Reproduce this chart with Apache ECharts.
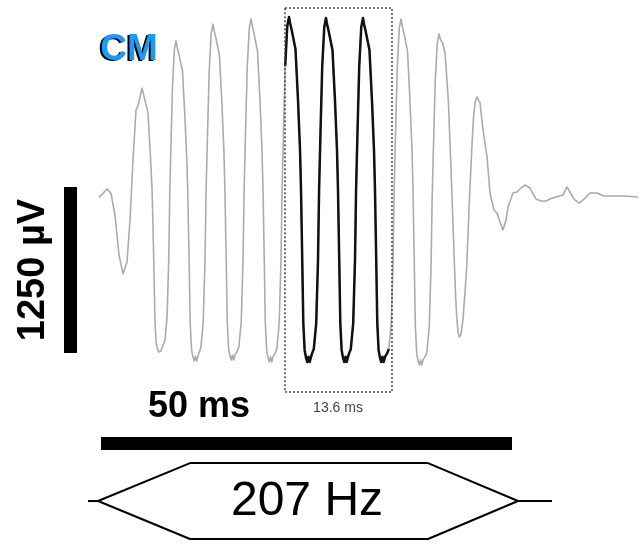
<!DOCTYPE html>
<html><head><meta charset="utf-8">
<script src="https://cdn.jsdelivr.net/npm/echarts@6/dist/echarts.min.js"></script>
<style>html,body{margin:0;padding:0;background:#fff}#c{width:644px;height:549px}</style>
</head><body><div id="c"></div>
<script>
const tracePoints = [
  [-0.24,-10],[0.24,20],[0.73,53],[1.22,20],[1.70,-143],[2.19,-444],[2.68,-587],[3.16,-497],[3.53,-181],[3.89,271],[4.26,648],[4.50,678],[4.74,678],[4.99,813],
  [5.26,743],[5.38,737],[5.71,628],[5.98,340],[6.21,50],[6.31,-181],[6.45,-585],[6.57,-950],[6.71,-1105],[6.87,-1151],[7.01,-1175],[7.30,-1165],[7.60,-1114],[7.78,-1086],[8.04,-910],[8.24,-479],[8.36,-4],[8.51,385],[8.70,834],[8.93,1106],[9.12,1167],
  [9.24,1126],[9.42,1083],[9.55,1075],[9.91,943],[10.21,594],[10.46,242],[10.58,-38],[10.73,-527],[10.86,-970],[11.02,-1158],[11.19,-1213],[11.35,-1242],[11.49,-1206],[11.64,-1242],[11.80,-1206],[11.94,-1176],[12.14,-1146],[12.43,-955],[12.65,-489],[12.78,27],[12.95,448],[13.16,935],[13.41,1229],[13.62,1295],
  [13.74,1252],[13.92,1206],[14.05,1199],[14.41,1060],[14.71,693],[14.96,323],[15.08,30],[15.23,-484],[15.36,-949],[15.52,-1146],[15.69,-1205],[15.85,-1235],[15.99,-1197],[16.14,-1235],[16.30,-1197],[16.57,-1168],[16.77,-1137],[17.06,-945],[17.28,-472],[17.41,49],[17.58,475],[17.79,968],[18.04,1266],[18.25,1333],
  [18.37,1289],[18.55,1243],[18.68,1235],[19.04,1093],[19.34,718],[19.59,341],[19.71,42],[19.86,-483],[19.99,-958],[20.15,-1160],[20.32,-1219],[20.48,-1250],[20.62,-1211],[20.77,-1250],[20.93,-1211],[21.19,-1183],[21.39,-1151],[21.68,-956],[21.90,-478],[22.03,49],[22.20,480],[22.41,979],[22.66,1280],[22.87,1348],
  [22.99,1304],[23.17,1257],[23.30,1249],[23.66,1106],[23.96,730],[24.21,350],[24.33,49],[24.48,-478],[24.61,-956],[24.77,-1159],[24.94,-1219],[25.10,-1250],[25.24,-1211],[25.39,-1250],[25.55,-1211],[25.69,-1183],[25.89,-1152],[26.18,-957],[26.40,-481],[26.53,45],[26.70,475],[26.91,972],[27.16,1273],[27.37,1340],
  [27.49,1296],[27.67,1249],[27.80,1242],[28.16,1099],[28.46,724],[28.71,345],[28.83,45],[28.98,-481],[29.11,-957],[29.27,-1159],[29.44,-1219],[29.60,-1250],[29.74,-1211],[29.89,-1250],[30.05,-1211],[30.19,-1183],[30.39,-1152],[30.68,-957],[30.90,-481],[31.03,45],[31.20,475],[31.41,972],[31.66,1273],[31.87,1340],
  [31.99,1296],[32.17,1249],[32.30,1242],[32.66,1099],[32.96,724],[33.21,345],[33.33,45],[33.48,-481],[33.61,-957],[33.77,-1159],[33.94,-1219],[34.10,-1250],[34.24,-1211],[34.39,-1250],[34.55,-1211],[34.82,-1183],[35.02,-1152],[35.31,-958],[35.53,-483],[35.66,42],[35.83,470],[36.04,966],[36.29,1266],[36.50,1333],
  [36.62,1289],[36.80,1242],[36.93,1234],[37.29,1091],[37.59,713],[37.84,332],[37.96,30],[38.11,-499],[38.24,-978],[38.40,-1182],[38.57,-1242],[38.73,-1273],[38.87,-1234],[39.02,-1273],[39.18,-1234],[39.44,-1208],[39.64,-1178],[39.93,-991],[40.15,-533],[40.28,-27],[40.45,387],[40.66,866],[40.91,1155],[41.12,1220],
  [41.30,1180],[41.56,1152],[41.85,1077],[42.25,723],[42.55,250],[42.86,-279],[43.10,-700],[43.27,-911],[43.45,-1030],[43.59,-1062],[43.80,-1040],[44.05,-920],[44.25,-750],[44.49,-535],[44.80,-50],[45.10,346],[45.30,580],[45.50,700],[45.74,745],
  [46.11,700],[46.47,497],[46.96,296],[47.32,23],[47.81,-105],[48.17,-128],[48.54,-196],[48.90,-256],[49.27,-181],[49.51,-83],[50.12,23],[50.61,30],[51.09,60],[51.58,83],[52.19,60],[52.92,-23],[53.53,-38],[54.13,-38],[54.62,-23],[55.35,-8],[56.20,8],[56.69,68],[57.05,30],[57.54,-23],[58.15,-53],[58.76,-23],[59.49,23],[60.34,23],[61.19,0],[62.53,0],[63.74,0],[65.33,-8]
];

// Highlighted window (ms) and its box
const highlightStartMs = 22.38, highlightEndMs = 35.1;
const boxTimeMs = [22.38, 35.40];
const boxVoltUV = [1416, -1476];
const boxLabel = '13.6 ms';

// Scale bars
const vBarTimeMs = -3.71, vBarVoltUV = [68, -1182], vBarLabel = '1250 µV';
const hBarTimeMs = [0, 50], hBarVoltUV = -1864, hBarLabel = '50 ms';

// Stimulus envelope (hexagon)
const stimTimeMs = [-0.36, 10.83, 39.78, 50.73, 39.78, 10.83, -0.36];
const stimVoltUV = [-2297, -2011, -2011, -2297, -2583, -2583, -2297];
const stimLeadMs = [-1.58, 54.86];
const stimLabel = '207 Hz';
const titleLabel = 'CM';

// axis extents (whole canvas)
const X_MIN = -12.287, X_MAX = 66.056, Y_MIN = -2658.1, Y_MAX = 1475.9;

const highlight = tracePoints.filter(p => p[0] >= highlightStartMs && p[0] <= highlightEndMs);
const box = [[boxTimeMs[0], boxVoltUV[0]], [boxTimeMs[1], boxVoltUV[0]], [boxTimeMs[1], boxVoltUV[1]], [boxTimeMs[0], boxVoltUV[1]], [boxTimeMs[0], boxVoltUV[0]]];
const stim = stimTimeMs.map((t, i) => [t, stimVoltUV[i]]);

const chart = echarts.init(document.getElementById('c'));
const FONT = '"Liberation Sans", Arial, sans-serif';
function lineSeries(data, color, width, extra) {
  return Object.assign({
    type: 'line', data: data, symbol: 'none', silent: true, animation: false,
    lineStyle: { color: color, width: width, join: 'round' }
  }, extra || {});
}
chart.setOption({
  backgroundColor: '#fff',
  animation: false,
  grid: { left: 0, right: 0, top: 0, bottom: 0 },
  xAxis: { type: 'value', min: X_MIN, max: X_MAX, show: false },
  yAxis: { type: 'value', min: Y_MIN, max: Y_MAX, show: false },
  series: [
    lineSeries(tracePoints, '#ababab', 1.6),
    lineSeries(highlight, '#111', 2.5),
    lineSeries(box, '#444', 1.5, { lineStyle: { color: '#444', width: 1.5, type: [2, 2] } }),
    lineSeries([[vBarTimeMs, vBarVoltUV[0]], [vBarTimeMs, vBarVoltUV[1]]], '#000', 13),
    lineSeries([[hBarTimeMs[0], hBarVoltUV], [hBarTimeMs[1], hBarVoltUV]], '#000', 13),
    lineSeries(stim, '#000', 2),
    lineSeries([[stimLeadMs[0], stimVoltUV[0]], [stimTimeMs[0], stimVoltUV[0]]], '#000', 2),
    lineSeries([[stimTimeMs[3], stimVoltUV[3]], [stimLeadMs[1], stimVoltUV[3]]], '#000', 2)
  ],
  graphic: [
    { type: 'text', x: 127, y: 51, style: { text: titleLabel, font: 'bold 37px ' + FONT, fill: '#000', align: 'center', verticalAlign: 'middle' } },
    { type: 'text', x: 129, y: 50, style: { text: titleLabel, font: 'bold 37px ' + FONT, fill: '#1a9af5', align: 'center', verticalAlign: 'middle' } },
    { type: 'text', x: 34, y: 270, rotation: Math.PI / 2, style: { text: vBarLabel, font: 'bold 38px ' + FONT, fill: '#000', align: 'center', verticalAlign: 'middle' } },
    { type: 'text', x: 199, y: 407, style: { text: hBarLabel, font: 'bold 36px ' + FONT, fill: '#000', align: 'center', verticalAlign: 'middle' } },
    { type: 'text', x: 338, y: 408, style: { text: boxLabel, font: '14px ' + FONT, fill: '#444', align: 'center', verticalAlign: 'middle' } },
    { type: 'text', x: 307, y: 502, style: { text: stimLabel, font: '48px ' + FONT, fill: '#000', align: 'center', verticalAlign: 'middle' } }
  ]
});
</script></body></html>
